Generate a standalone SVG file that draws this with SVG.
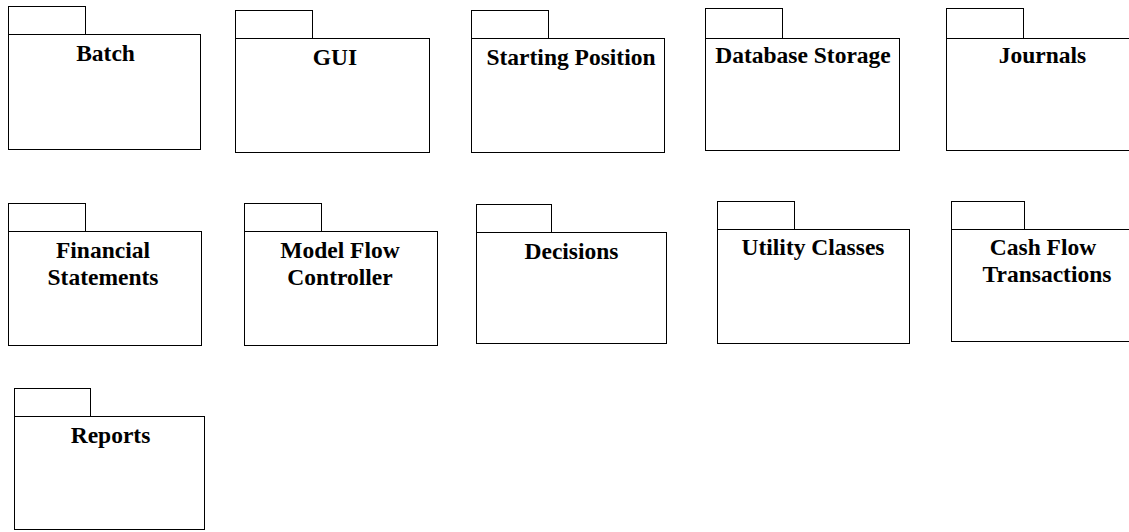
<svg xmlns="http://www.w3.org/2000/svg" width="1129" height="532" viewBox="0 0 1129 532">
<style>
.pkg rect{fill:#fff;stroke:#000;stroke-width:1}
.lbl{font-family:"Liberation Serif","Times New Roman",serif;font-weight:bold;font-size:23.5px;fill:#000;text-anchor:middle}
</style>
<rect width="1129" height="532" fill="#fff"/>
<g id="connectors"></g>
<g id="batch" class="pkg">
<rect x="8.5" y="6.5" width="77" height="28"/>
<rect x="8.5" y="34.5" width="192" height="115"/>
<text class="lbl" x="105.5" y="61">Batch</text>
</g>
<g id="gui" class="pkg">
<rect x="235.5" y="10.5" width="77" height="28"/>
<rect x="235.5" y="38.5" width="194" height="114"/>
<text class="lbl" x="335" y="64.5">GUI</text>
</g>
<g id="starting-position" class="pkg">
<rect x="471.5" y="10.5" width="77" height="28"/>
<rect x="471.5" y="38.5" width="193" height="114"/>
<text class="lbl" x="571" y="64.5">Starting Position</text>
</g>
<g id="database-storage" class="pkg">
<rect x="705.5" y="8.5" width="77" height="30"/>
<rect x="705.5" y="38.5" width="194" height="112"/>
<text class="lbl" x="803" y="62.5">Database Storage</text>
</g>
<g id="journals" class="pkg">
<rect x="946.5" y="8.5" width="77" height="30"/>
<rect x="946.5" y="38.5" width="194" height="112"/>
<text class="lbl" x="1042.5" y="62.5">Journals</text>
</g>
<g id="financial-statements" class="pkg">
<rect x="8.5" y="203.5" width="77" height="28"/>
<rect x="8.5" y="231.5" width="193" height="114"/>
<text class="lbl" x="103" y="257.5">Financial</text>
<text class="lbl" x="103" y="285">Statements</text>
</g>
<g id="model-flow-controller" class="pkg">
<rect x="244.5" y="203.5" width="77" height="28"/>
<rect x="244.5" y="231.5" width="193" height="114"/>
<text class="lbl" x="340" y="257.5">Model Flow</text>
<text class="lbl" x="340" y="285">Controller</text>
</g>
<g id="decisions" class="pkg">
<rect x="476.5" y="204.5" width="75" height="28"/>
<rect x="476.5" y="232.5" width="190" height="111"/>
<text class="lbl" x="571.5" y="259">Decisions</text>
</g>
<g id="utility-classes" class="pkg">
<rect x="717.5" y="201.5" width="77" height="28"/>
<rect x="717.5" y="229.5" width="192" height="114"/>
<text class="lbl" x="813" y="255">Utility Classes</text>
</g>
<g id="cash-flow-transactions" class="pkg">
<rect x="951.5" y="201.5" width="73" height="28"/>
<rect x="951.5" y="229.5" width="194" height="112"/>
<text class="lbl" x="1043" y="255">Cash Flow</text>
<text class="lbl" x="1047" y="282">Transactions</text>
</g>
<g id="reports" class="pkg">
<rect x="14.5" y="388.5" width="76" height="28"/>
<rect x="14.5" y="416.5" width="190" height="113"/>
<text class="lbl" x="110.5" y="442.5">Reports</text>
</g>
</svg>
